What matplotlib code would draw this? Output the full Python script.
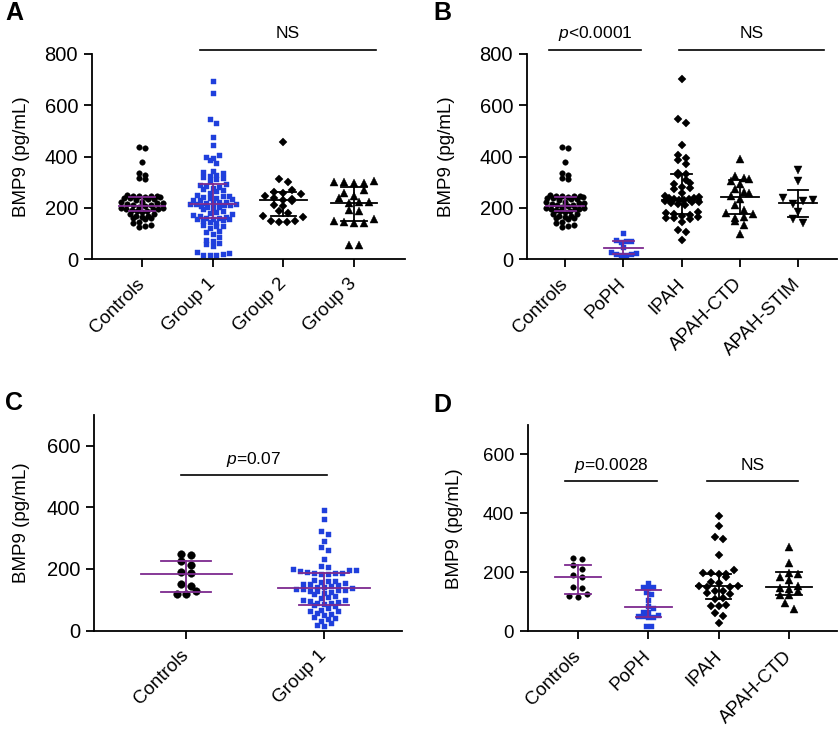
import numpy as np
import matplotlib
matplotlib.use("Agg")
import matplotlib.pyplot as plt

plt.rcParams['font.family'] = ['Liberation Sans', 'DejaVu Sans']
plt.rcParams['mathtext.fontset'] = 'custom'
plt.rcParams['mathtext.it'] = 'Liberation Sans:italic'
plt.rcParams['mathtext.rm'] = 'Liberation Sans'

# ---- data (pg/mL) ----
ctrl_ab = [438, 432, 380, 335, 330, 316, 312,
           250, 248, 248, 246, 245, 243, 242, 240, 238, 236, 234, 230,
           225, 222, 220, 218, 215, 212, 210, 208, 205,
           200, 198, 197, 195, 195, 193, 190, 188, 185,
           178, 175, 170, 168, 165, 160, 160, 155,
           145, 140, 135, 128, 125]
group1_a = [696, 648, 545, 530, 478, 445, 408, 400, 395, 385, 375,
            345, 340, 335, 330, 325, 320, 318, 312, 305,
            295, 290, 285, 280, 278, 272, 270, 265,
            258, 252, 248, 245, 242, 240, 238, 235, 232, 230,
            225, 222, 220, 218, 216, 215, 214, 212, 210, 208, 205, 202, 200,
            195, 190, 185, 180, 175, 172, 168, 165, 162, 160, 158, 156, 155, 152, 150,
            145, 140, 135, 130, 128, 120, 110, 105, 100,
            85, 75, 70, 65, 60, 50,
            30, 25, 20, 18, 15, 15]
group2_a = [458, 312, 300, 268, 262, 258, 255, 248, 240, 236, 232, 228,
            210, 207, 188, 182, 168, 163, 150, 148, 146, 145]
group3_a = [305, 302, 300, 298, 296, 268, 258, 245, 240, 225, 222, 218,
            192, 188, 155, 150, 145, 143, 140, 55, 55]

poph_b = [103, 76, 73, 70, 68, 48, 30, 25, 22, 20, 18, 16]
ipah_b = [703, 545, 532, 444, 408, 396, 386, 370, 336, 332, 327, 308, 298, 292,
          280, 276, 272, 258, 245, 242, 240, 238, 236, 234, 232, 230, 228, 225,
          222, 218, 214, 210, 186, 182, 175, 172, 168, 165, 162, 160, 156, 146,
          114, 107, 75]
ctd_b = [390, 325, 318, 312, 305, 292, 272, 263, 258, 246, 235, 211, 192, 181,
         178, 165, 160, 150, 133, 98]
stim_b = [347, 304, 240, 232, 228, 217, 185, 155, 140]

ctrl_cd = [248, 246, 227, 213, 190, 186, 150, 146, 127, 120, 118]
group1_c = [392, 362, 322, 315, 290, 272, 262, 232,
            208, 205, 200, 196, 195, 192, 190, 188, 187, 186, 185, 184,
            165, 162, 160, 158, 155, 152, 150, 148, 145, 142, 140, 138, 136, 135,
            133, 132, 130, 128, 125, 122,
            118, 112, 108, 105, 100, 98, 95, 92, 90, 88, 85, 82, 80,
            72, 68, 65, 62, 58, 55, 50, 45, 42, 38, 32, 25, 18, 15]
poph_d = [165, 152, 150, 148, 135, 126, 106, 85, 80, 67, 65, 56, 54, 52, 50, 48, 18, 17]
ipah_d = [392, 358, 321, 315, 260, 209, 198, 197, 196, 195, 184, 168, 166, 155,
          153, 152, 150, 138, 136, 130, 126, 112, 110, 90, 88, 87, 61, 52, 30]
ctd_d = [287, 231, 197, 194, 184, 175, 153, 146, 144, 137, 124, 122, 95, 75]

# median and interquartile range shown as bars
a_med = [208, 215, 230, 220]
a_q1 = [189, 159, 168, 149]
a_q3 = [243, 295, 263, 280]
b_med = [208, 45, 230, 241, 221]
b_q1 = [189, 22, 178, 176, 165]
b_q3 = [243, 72, 331, 308, 269]
c_med = [183, 139]
c_q1 = [126, 83]
c_q3 = [226, 186]
d_med = [184, 83, 155, 151]
d_q1 = [126, 50, 109, 123]
d_q3 = [227, 140, 196, 201]

a_labels = ['Controls', 'Group 1', 'Group 2', 'Group 3']
b_labels = ['Controls', 'PoPH', 'IPAH', 'APAH-CTD', 'APAH-STIM']
c_labels = ['Controls', 'Group 1']
d_labels = ['Controls', 'PoPH', 'IPAH', 'APAH-CTD']

BLUE = '#1f3fdc'
PURPLE = '#7d2a8f'
W, H = 840, 733


def rows_layout(vals, sy, b, s, w):
    # GraphPad-like scatter: group close values into rows, spread each row
    ys = np.asarray(vals, dtype=float) * sy
    order = np.argsort(ys)
    xs = np.zeros(len(ys))
    rows, cur = [], [order[0]]
    for i in order[1:]:
        if ys[i] - ys[cur[0]] <= b:
            cur.append(i)
        else:
            rows.append(cur)
            cur = [i]
    rows.append(cur)
    for r in rows:
        n = len(r)
        if n == 1:
            continue
        sp = min(s, w / (n - 1))
        slots = (np.arange(n) - (n - 1) / 2) * sp
        # lowest values in the middle, higher ones outward
        slot_order = np.argsort(np.abs(slots) + 1e-3 * np.arange(n) * ((-1) ** np.arange(n)), kind='stable')
        for k, idx in enumerate(r):
            xs[idx] = slots[slot_order[k]]
    return xs


def panel(rect, xlim, ylim, yticks, groups, styles, med, q1, q3, bar_cols, labels, ylab_x, ysize):
    ax = fig.add_axes(rect)
    ax.set_xlim(*xlim)
    ax.set_ylim(*ylim)
    px_x = rect[2] * W / (xlim[1] - xlim[0])
    px_y = rect[3] * H / (ylim[1] - ylim[0])
    for i, (vals, st) in enumerate(zip(groups, styles)):
        marker, col, ms, b, s, w = st
        off = rows_layout(vals, px_y, b, s, w) / px_x
        ax.plot(i + off, vals, ls='none', marker=marker, color=col, ms=ms,
                mec=col, mew=0.3, zorder=2)
    for i in range(len(groups)):
        c = bar_cols[i]
        ax.plot([i - 0.33, i + 0.33], [med[i], med[i]], color=c, lw=1.3, zorder=3)
        ax.plot([i - 0.18, i + 0.18], [q1[i], q1[i]], color=c, lw=1.3, zorder=3)
        ax.plot([i - 0.18, i + 0.18], [q3[i], q3[i]], color=c, lw=1.3, zorder=3)
        ax.plot([i, i], [q1[i], q3[i]], color=c, lw=1.3, zorder=3)
    for sp in ['top', 'right']:
        ax.spines[sp].set_visible(False)
    for sp in ['left', 'bottom']:
        ax.spines[sp].set_linewidth(1.3)
    ax.set_yticks(yticks)
    ax.set_xticks(range(len(groups)))
    ax.set_xticklabels(labels, rotation=45, ha='right', va='center',
                       rotation_mode='anchor')
    ax.tick_params(direction='out', length=6, width=1.3, labelsize=13.5, pad=4)
    ax.tick_params(axis='y', labelsize=ysize)
    ax.tick_params(axis='x', pad=10)
    ax.set_ylabel('BMP9 (pg/mL)', fontsize=13.5)
    ax.yaxis.set_label_coords(ylab_x, 0.5)
    return ax


def sig(ax, x0, x1, y, ty, txt):
    ax.plot([x0, x1], [y, y], color='black', lw=1.2, clip_on=False)
    ax.text((x0 + x1) / 2, ty, txt, ha='center', va='center', fontsize=12.5)


fig = plt.figure(figsize=(8.4, 7.33), dpi=100)

# marker, colour, size, row height px, max spacing px, max row width px
axA = panel([92 / W, 0.6463, 313 / W, 0.2801], (-0.71, 3.72), (0, 800),
            [0, 200, 400, 600, 800],
            [ctrl_ab, group1_a, group2_a, group3_a],
            [('o', 'black', 4.0, 4.5, 6, 42), ('s', BLUE, 3.6, 4.5, 6.5, 46),
             ('D', 'black', 3.8, 6, 9, 40), ('^', 'black', 5.2, 6, 10, 42)],
            a_med, a_q1, a_q3, [PURPLE, PURPLE, 'black', 'black'], a_labels, -0.198, 14.5)
sig(axA, 0.82, 3.31, 817, 879, 'NS')

axB = panel([527 / W, 0.6463, 310 / W, 0.2801], (-0.655, 4.67), (0, 800),
            [0, 200, 400, 600, 800],
            [ctrl_ab, poph_b, ipah_b, ctd_b, stim_b],
            [('o', 'black', 4.0, 4.5, 6, 38), ('s', BLUE, 3.6, 5, 5, 26),
             ('D', 'black', 3.8, 5, 8, 34), ('^', 'black', 5.2, 6, 9, 30),
             ('v', 'black', 5.2, 6, 10, 30)],
            b_med, b_q1, b_q3, [PURPLE, PURPLE, 'black', 'black', 'black'], b_labels, -0.232, 14.5)
sig(axB, -0.28, 1.31, 817, 879, '$p$<0.0001')
sig(axB, 1.95, 4.45, 817, 879, 'NS')

axC = panel([94 / W, 0.1398, 308 / W, 0.294], (-0.667, 1.565), (0, 700),
            [0, 200, 400, 600],
            [ctrl_cd, group1_c],
            [('o', 'black', 5.5, 6, 9.5, 30), ('s', BLUE, 3.6, 5, 7, 72)],
            c_med, c_q1, c_q3, [PURPLE, PURPLE], c_labels, -0.208, 14.5)
sig(axC, -0.04, 1.02, 506, 557, '$p$=0.07')

axD = panel([528 / W, 0.1385, 309 / W, 0.2817], (-0.71, 3.68), (0, 700),
            [0, 200, 400, 600],
            [ctrl_cd, poph_d, ipah_d, ctd_d],
            [('o', 'black', 4.0, 5, 9, 20), ('s', BLUE, 3.6, 5, 5, 30),
             ('D', 'black', 3.8, 6, 7.7, 40), ('^', 'black', 5.2, 6, 9, 38)],
            d_med, d_q1, d_q3, [PURPLE, PURPLE, 'black', 'black'], d_labels, -0.21, 13.5)
sig(axD, -0.18, 1.12, 509, 563, '$p$=0.0028')
sig(axD, 1.83, 3.13, 509, 563, 'NS')

for lab, x, y in [('A', 5, 13), ('B', 433, 13), ('C', 5, 403), ('D', 433, 405)]:
    fig.text(x / W, 1 - y / H, lab, fontsize=18, fontweight='bold', va='center', ha='left')

fig.savefig('out.png', dpi=100)
